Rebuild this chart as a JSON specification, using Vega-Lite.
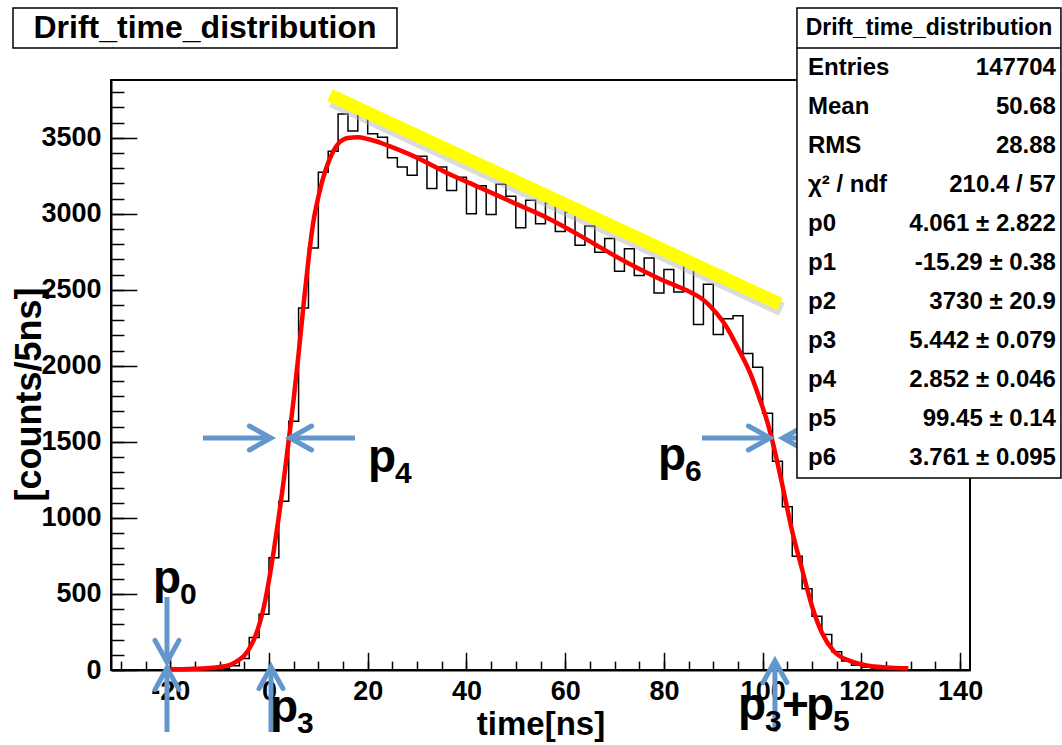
{
"$schema": "https://vega.github.io/schema/vega-lite/v6.json",
"width": 859, "height": 590,
"autosize": "none",
"padding": {"left": 111, "top": 80, "right": 92, "bottom": 75},
"background": "white",
"config": {
  "view": {"stroke": "black", "strokeWidth": 2},
  "font": "Liberation Sans",
  "axis": {"labelFont": "Liberation Sans", "labelFontWeight": "bold", "labelFontSize": 27, "labelColor": "black", "titleFont": "Liberation Sans", "titleFontWeight": "bold", "titleFontSize": 33, "titleColor": "black", "grid": false, "domainColor": "black", "tickColor": "black", "labelOverlap": false, "labelFlush": false, "labelBound": false}
},
"datasets": {
  "hist": [
    {"t":-32,"c":0},{"t":-30,"c":0},{"t":-28,"c":0},{"t":-26,"c":0},{"t":-24,"c":0},{"t":-22,"c":0},{"t":-20,"c":0},{"t":-18,"c":0},{"t":-16,"c":0},{"t":-14,"c":2},{"t":-12,"c":4},{"t":-10,"c":10},{"t":-8,"c":28},{"t":-6,"c":75},{"t":-4,"c":213},{"t":-2,"c":366},{"t":0,"c":738},{"t":2,"c":1110},{"t":4,"c":1636},{"t":6,"c":2381},{"t":8,"c":2776},{"t":10,"c":3273},{"t":12,"c":3411},{"t":14,"c":3656},{"t":16,"c":3545},{"t":18,"c":3695},{"t":20,"c":3527},{"t":22,"c":3503},{"t":24,"c":3368},{"t":26,"c":3308},{"t":28,"c":3253},{"t":30,"c":3378},{"t":32,"c":3166},{"t":34,"c":3308},{"t":36,"c":3153},{"t":38,"c":3240},{"t":40,"c":3001},{"t":42,"c":3185},{"t":44,"c":2995},{"t":46,"c":3195},{"t":48,"c":3115},{"t":50,"c":2909},{"t":52,"c":3090},{"t":54,"c":2934},{"t":56,"c":3072},{"t":58,"c":2883},{"t":60,"c":3012},{"t":62,"c":2794},{"t":64,"c":2920},{"t":66,"c":2748},{"t":68,"c":2837},{"t":70,"c":2622},{"t":72,"c":2770},{"t":74,"c":2594},{"t":76,"c":2710},{"t":78,"c":2480},{"t":80,"c":2633},{"t":82,"c":2486},{"t":84,"c":2668},{"t":86,"c":2272},{"t":88,"c":2537},{"t":90,"c":2207},{"t":92,"c":2310},{"t":94,"c":2330},{"t":96,"c":2081},{"t":98,"c":1991},{"t":100,"c":1689},{"t":102,"c":1373},{"t":104,"c":1073},{"t":106,"c":748},{"t":108,"c":534},{"t":110,"c":354},{"t":112,"c":233},{"t":114,"c":120},{"t":116,"c":60},{"t":118,"c":32},{"t":120,"c":18},{"t":122,"c":10},{"t":124,"c":6},{"t":126,"c":3},{"t":128,"c":2},{"t":130,"c":0},{"t":132,"c":0},{"t":134,"c":0},{"t":136,"c":0},{"t":138,"c":0},{"t":140,"c":0},{"t":142,"c":0}
  ],
  "fit": [
    {"t":-20,"c":5},{"t":-16,"c":7},{"t":-12,"c":13},{"t":-10,"c":20},{"t":-8,"c":33},{"t":-7,"c":48},{"t":-6,"c":68},{"t":-5,"c":95},{"t":-4,"c":140},{"t":-3,"c":205},{"t":-2,"c":295},{"t":-1,"c":420},{"t":0,"c":590},{"t":1,"c":790},{"t":2,"c":1010},{"t":3,"c":1250},{"t":4,"c":1510},{"t":5,"c":1780},{"t":6,"c":2080},{"t":7,"c":2400},{"t":8,"c":2700},{"t":9,"c":2950},{"t":10,"c":3110},{"t":11,"c":3240},{"t":12,"c":3335},{"t":13,"c":3410},{"t":14,"c":3460},{"t":16,"c":3498},{"t":18,"c":3503},{"t":20,"c":3492},{"t":22,"c":3474},{"t":24,"c":3450},{"t":29.4,"c":3378},{"t":36.1,"c":3269},{"t":42.9,"c":3170},{"t":49.6,"c":3072},{"t":56.4,"c":2973},{"t":63.1,"c":2855},{"t":66,"c":2800},{"t":72.5,"c":2680},{"t":79.3,"c":2570},{"t":84.7,"c":2495},{"t":87.4,"c":2448},{"t":89,"c":2405},{"t":90.8,"c":2340},{"t":92.8,"c":2250},{"t":94.1,"c":2173},{"t":95.5,"c":2085},{"t":97.5,"c":1950},{"t":99.2,"c":1800},{"t":100.9,"c":1636},{"t":101.9,"c":1515},{"t":103.9,"c":1230},{"t":105.9,"c":924},{"t":108,"c":661},{"t":110,"c":419},{"t":112,"c":245},{"t":114.4,"c":124},{"t":117.8,"c":58},{"t":121.1,"c":30},{"t":125,"c":17},{"t":129.5,"c":11}
  ],
  "yellow": [{"t1":12.36,"c1":3781,"t2":103.5,"c2":2407}],
  "shadow": [{"t1":12.8,"c1":3745,"t2":103.9,"c2":2371}],
  "arrows": [
    {"dir":"right","t1":-13.37,"c1":1525.7,"t2":0.41,"c2":1525.7},
    {"dir":"left","t1":17.42,"c1":1525.7,"t2":4.26,"c2":1525.7},
    {"dir":"right","t1":87.71,"c1":1525.7,"t2":101.48,"c2":1525.7},
    {"dir":"left","t1":117.08,"c1":1525.7,"t2":104.11,"c2":1525.7},
    {"dir":"down","t1":-20.66,"c1":480,"t2":-20.66,"c2":52.6},
    {"dir":"up","t1":-20.66,"c1":-407.7,"t2":-20.66,"c2":13.1},
    {"dir":"up","t1":0.41,"c1":-407.7,"t2":0.41,"c2":19.7},
    {"dir":"up","t1":102.49,"c1":-407.7,"t2":102.49,"c2":59.2}
  ],
  "ann": [
    {"kind":"main","txt":"p","t":20.06,"c":1302.1},
    {"kind":"sub","txt":"4","t":25.52,"c":1229.7},
    {"kind":"main","txt":"p","t":78.79,"c":1315.2},
    {"kind":"sub","txt":"6","t":84.26,"c":1242.9},
    {"kind":"main","txt":"p","t":-23.49,"c":506.4},
    {"kind":"sub","txt":"0","t":-18.02,"c":434},
    {"kind":"main","txt":"p","t":0.2,"c":-342},
    {"kind":"sub","txt":"3","t":5.67,"c":-414},
    {"kind":"main","txt":"p","t":95.0,"c":-329},
    {"kind":"sub","txt":"3","t":100.47,"c":-401},
    {"kind":"main","txt":"+","t":103.91,"c":-329},
    {"kind":"main","txt":"p","t":108.77,"c":-329},
    {"kind":"sub","txt":"5","t":114.24,"c":-401}
  ],
  "boxes": [
    {"name":"stats","t1":106.95,"t2":160.42,"c1":1262.6,"c2":4353.5},
    {"name":"title","t1":-51.85,"t2":25.93,"c1":4090.4,"c2":4353.5}
  ],
  "stats": [
    {"label":"Entries","value":"147704","c":3958.9},
    {"label":"Mean","value":"50.68","c":3702.4},
    {"label":"RMS","value":"28.88","c":3446},
    {"label":"χ² / ndf","value":"210.4 / 57","c":3189.5},
    {"label":"p0","value":"4.061 ± 2.822","c":2933},
    {"label":"p1","value":"-15.29 ± 0.38","c":2676.5},
    {"label":"p2","value":"3730 ± 20.9","c":2420.1},
    {"label":"p3","value":"5.442 ± 0.079","c":2163.6},
    {"label":"p4","value":"2.852 ± 0.046","c":1907.1},
    {"label":"p5","value":"99.45 ± 0.14","c":1650.6},
    {"label":"p6","value":"3.761 ± 0.095","c":1394.2}
  ],
  "heads": [
    {"kind":"stats","txt":"Drift_time_distribution","t":133.69,"c":4222},
    {"kind":"title","txt":"Drift_time_distribution","t":-12.96,"c":4222}
  ]
},
"layer": [
  {
    "data": {"name": "hist"},
    "mark": {"type": "line", "interpolate": "step-after", "color": "black", "strokeWidth": 1.5},
    "encoding": {
      "x": {"field": "t", "type": "quantitative", "scale": {"domain": [-32, 142], "nice": false, "zero": false},
        "axis": {"orient": "bottom", "values": [-20,0,20,40,60,80,100,120,140], "labelExpr": "'' + datum.value", "ticks": false, "domain": true, "domainWidth": 2, "labelPadding": 8, "title": "time[ns]", "titleBaseline": "alphabetic", "titleAlign": "center", "titleX": 429.5, "titleY": 64}},
      "y": {"field": "c", "type": "quantitative", "scale": {"domain": [0, 3880], "nice": false, "zero": false},
        "axis": {"orient": "left", "values": [0,500,1000,1500,2000,2500,3000,3500], "labelExpr": "'' + datum.value", "ticks": false, "domain": true, "domainWidth": 2, "labelPadding": 10, "title": "[counts/5ns]", "titleFontSize": 36, "titleAngle": -90, "titleBaseline": "alphabetic", "titleAlign": "center", "titleX": -71, "titleY": 314}}
    }
  },
  {
    "data": {"name": "fit"},
    "mark": {"type": "line", "interpolate": "monotone", "color": "#ff0000", "strokeWidth": 4.5},
    "encoding": {
      "x": {"field": "t", "type": "quantitative", "scale": {"domain": [-32, 142], "nice": false, "zero": false},
        "axis": {"orient": "bottom", "values": [-20,0,20,40,60,80,100,120,140], "labels": false, "domain": false, "ticks": true, "tickSize": -17.7, "tickWidth": 1.5, "title": null}},
      "y": {"field": "c", "type": "quantitative", "scale": {"domain": [0, 3880], "nice": false, "zero": false},
        "axis": {"orient": "left", "values": [0,500,1000,1500,2000,2500,3000,3500], "labels": false, "domain": false, "ticks": true, "tickSize": -25.8, "tickWidth": 1.5, "title": null}}
    }
  },
  {
    "data": {"name": "shadow"},
    "mark": {"type": "rule", "color": "#b0b0b0", "opacity": 0.45, "strokeWidth": 14, "strokeCap": "butt"},
    "encoding": {
      "x": {"field": "t1", "type": "quantitative", "scale": {"domain": [-32, 142], "nice": false, "zero": false}, "axis": null},
      "x2": {"field": "t2"},
      "y": {"field": "c1", "type": "quantitative", "scale": {"domain": [0, 3880], "nice": false, "zero": false}, "axis": null},
      "y2": {"field": "c2"}
    }
  },
  {
    "data": {"name": "yellow"},
    "mark": {"type": "rule", "color": "#ffff00", "strokeWidth": 13, "strokeCap": "butt"},
    "encoding": {
      "x": {"field": "t1", "type": "quantitative", "scale": {"domain": [-32, 142], "nice": false, "zero": false},
        "axis": {"orient": "bottom", "values": [-30,-25,-20,-15,-10,-5,0,5,10,15,20,25,30,35,40,45,50,55,60,65,70,75,80,85,90,95,100,105,110,115,120,125,130,135,140], "labels": false, "domain": false, "ticks": true, "tickSize": -8.9, "tickWidth": 1.5, "title": null}},
      "x2": {"field": "t2"},
      "y": {"field": "c1", "type": "quantitative", "scale": {"domain": [0, 3880], "nice": false, "zero": false},
        "axis": {"orient": "left", "values": [0,100,200,300,400,500,600,700,800,900,1000,1100,1200,1300,1400,1500,1600,1700,1800,1900,2000,2100,2200,2300,2400,2500,2600,2700,2800,2900,3000,3100,3200,3300,3400,3500,3600,3700,3800], "labels": false, "domain": false, "ticks": true, "tickSize": -12.9, "tickWidth": 1.5, "title": null}},
      "y2": {"field": "c2"}
    }
  },
  {
    "data": {"name": "arrows"},
    "mark": {"type": "rule", "color": "#6397cc", "strokeWidth": 5, "strokeCap": "butt"},
    "encoding": {
      "x": {"field": "t1", "type": "quantitative", "scale": {"domain": [-32, 142], "nice": false, "zero": false}, "axis": null},
      "x2": {"field": "t2"},
      "y": {"field": "c1", "type": "quantitative", "scale": {"domain": [0, 3880], "nice": false, "zero": false}, "axis": null},
      "y2": {"field": "c2"}
    }
  },
  {
    "data": {"name": "arrows"},
    "transform": [{"filter": "datum.dir == 'right'"}],
    "mark": {"type": "point", "shape": "M -1.8 -1 L 0 0 L -1.8 1", "filled": false, "color": "#6397cc", "strokeWidth": 5, "size": 576, "angle": 0, "opacity": 1, "strokeCap": "round"},
    "encoding": {
      "x": {"field": "t2", "type": "quantitative", "scale": {"domain": [-32, 142], "nice": false, "zero": false}, "axis": null},
      "y": {"field": "c2", "type": "quantitative", "scale": {"domain": [0, 3880], "nice": false, "zero": false}, "axis": null}
    }
  },
  {
    "data": {"name": "arrows"},
    "transform": [{"filter": "datum.dir == 'left'"}],
    "mark": {"type": "point", "shape": "M -1.8 -1 L 0 0 L -1.8 1", "filled": false, "color": "#6397cc", "strokeWidth": 5, "size": 576, "angle": 180, "opacity": 1, "strokeCap": "round"},
    "encoding": {
      "x": {"field": "t2", "type": "quantitative", "scale": {"domain": [-32, 142], "nice": false, "zero": false}, "axis": null},
      "y": {"field": "c2", "type": "quantitative", "scale": {"domain": [0, 3880], "nice": false, "zero": false}, "axis": null}
    }
  },
  {
    "data": {"name": "arrows"},
    "transform": [{"filter": "datum.dir == 'down'"}],
    "mark": {"type": "point", "shape": "M -1.8 -1 L 0 0 L -1.8 1", "filled": false, "color": "#6397cc", "strokeWidth": 5, "size": 576, "angle": 90, "opacity": 1, "strokeCap": "round"},
    "encoding": {
      "x": {"field": "t2", "type": "quantitative", "scale": {"domain": [-32, 142], "nice": false, "zero": false}, "axis": null},
      "y": {"field": "c2", "type": "quantitative", "scale": {"domain": [0, 3880], "nice": false, "zero": false}, "axis": null}
    }
  },
  {
    "data": {"name": "arrows"},
    "transform": [{"filter": "datum.dir == 'up'"}],
    "mark": {"type": "point", "shape": "M -1.8 -1 L 0 0 L -1.8 1", "filled": false, "color": "#6397cc", "strokeWidth": 5, "size": 576, "angle": 270, "opacity": 1, "strokeCap": "round"},
    "encoding": {
      "x": {"field": "t2", "type": "quantitative", "scale": {"domain": [-32, 142], "nice": false, "zero": false}, "axis": null},
      "y": {"field": "c2", "type": "quantitative", "scale": {"domain": [0, 3880], "nice": false, "zero": false}, "axis": null}
    }
  },
  {
    "data": {"name": "ann"},
    "transform": [{"filter": "datum.kind == 'main'"}],
    "mark": {"type": "text", "font": "Liberation Sans", "fontWeight": "bold", "fontSize": 46, "align": "left", "baseline": "alphabetic", "color": "black"},
    "encoding": {
      "x": {"field": "t", "type": "quantitative", "scale": {"domain": [-32, 142], "nice": false, "zero": false}, "axis": null},
      "y": {"field": "c", "type": "quantitative", "scale": {"domain": [0, 3880], "nice": false, "zero": false}, "axis": null},
      "text": {"field": "txt"}
    }
  },
  {
    "data": {"name": "ann"},
    "transform": [{"filter": "datum.kind == 'sub'"}],
    "mark": {"type": "text", "font": "Liberation Sans", "fontWeight": "bold", "fontSize": 30, "align": "left", "baseline": "alphabetic", "color": "black"},
    "encoding": {
      "x": {"field": "t", "type": "quantitative", "scale": {"domain": [-32, 142], "nice": false, "zero": false}, "axis": null},
      "y": {"field": "c", "type": "quantitative", "scale": {"domain": [0, 3880], "nice": false, "zero": false}, "axis": null},
      "text": {"field": "txt"}
    }
  },
  {
    "data": {"name": "boxes"},
    "mark": {"type": "rect", "fill": "white", "stroke": "black", "strokeWidth": 1.5},
    "encoding": {
      "x": {"field": "t1", "type": "quantitative", "scale": {"domain": [-32, 142], "nice": false, "zero": false}, "axis": null},
      "x2": {"field": "t2"},
      "y": {"field": "c1", "type": "quantitative", "scale": {"domain": [0, 3880], "nice": false, "zero": false}, "axis": null},
      "y2": {"field": "c2"}
    }
  },
  {
    "data": {"values": [{}]},
    "mark": {"type": "rule", "color": "black", "strokeWidth": 1.5},
    "encoding": {
      "x": {"datum": 106.95, "type": "quantitative", "scale": {"domain": [-32, 142], "nice": false, "zero": false}, "axis": null},
      "x2": {"datum": 160.42},
      "y": {"datum": 4090.4, "type": "quantitative", "scale": {"domain": [0, 3880], "nice": false, "zero": false}, "axis": null}
    }
  },
  {
    "data": {"name": "stats"},
    "mark": {"type": "text", "font": "Liberation Sans", "fontWeight": "bold", "fontSize": 24, "align": "left", "baseline": "middle", "color": "black"},
    "encoding": {
      "x": {"datum": 109.18, "type": "quantitative", "scale": {"domain": [-32, 142], "nice": false, "zero": false}, "axis": null},
      "y": {"field": "c", "type": "quantitative", "scale": {"domain": [0, 3880], "nice": false, "zero": false}, "axis": null},
      "text": {"field": "label"}
    }
  },
  {
    "data": {"name": "stats"},
    "mark": {"type": "text", "font": "Liberation Sans", "fontWeight": "bold", "fontSize": 24, "align": "right", "baseline": "middle", "color": "black"},
    "encoding": {
      "x": {"datum": 159.41, "type": "quantitative", "scale": {"domain": [-32, 142], "nice": false, "zero": false}, "axis": null},
      "y": {"field": "c", "type": "quantitative", "scale": {"domain": [0, 3880], "nice": false, "zero": false}, "axis": null},
      "text": {"field": "value"}
    }
  },
  {
    "data": {"name": "heads"},
    "transform": [{"filter": "datum.kind == 'stats'"}],
    "mark": {"type": "text", "font": "Liberation Sans", "fontWeight": "bold", "fontSize": 23, "align": "center", "baseline": "middle", "color": "black"},
    "encoding": {
      "x": {"field": "t", "type": "quantitative", "scale": {"domain": [-32, 142], "nice": false, "zero": false}, "axis": null},
      "y": {"field": "c", "type": "quantitative", "scale": {"domain": [0, 3880], "nice": false, "zero": false}, "axis": null},
      "text": {"field": "txt"}
    }
  },
  {
    "data": {"name": "heads"},
    "transform": [{"filter": "datum.kind == 'title'"}],
    "mark": {"type": "text", "font": "Liberation Sans", "fontWeight": "bold", "fontSize": 32, "align": "center", "baseline": "middle", "color": "black"},
    "encoding": {
      "x": {"field": "t", "type": "quantitative", "scale": {"domain": [-32, 142], "nice": false, "zero": false}, "axis": null},
      "y": {"field": "c", "type": "quantitative", "scale": {"domain": [0, 3880], "nice": false, "zero": false}, "axis": null},
      "text": {"field": "txt"}
    }
  }
],
"resolve": {"axis": {"x": "independent", "y": "independent"}}
}
